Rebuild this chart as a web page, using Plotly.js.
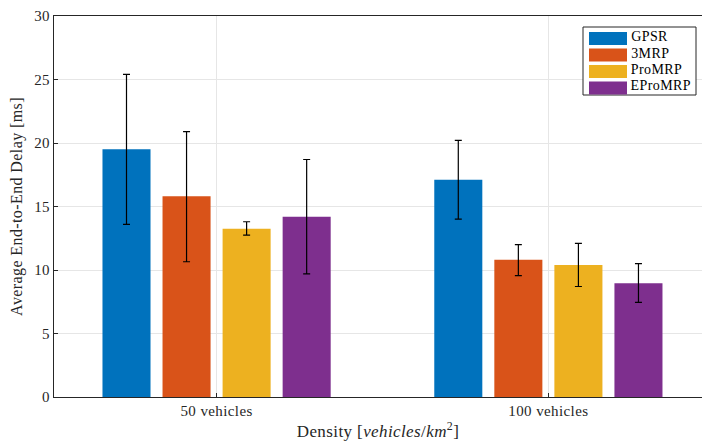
<!DOCTYPE html>
<html>
<head>
<meta charset="utf-8">
<script src="https://cdn.plot.ly/plotly-3.0.1.min.js"></script>
<style>html,body{margin:0;padding:0;background:#fff;}#chart{width:702px;height:441px;}#chart text{letter-spacing:0.4px;}</style>
</head>
<body>
<div id="chart"></div>
<script>
const categories = ["50 vehicles", "100 vehicles"];
const seriesNames = ["GPSR", "3MRP", "ProMRP", "EProMRP"];
const colors = ["#0072BD", "#D95319", "#EDB120", "#7E2F8E"];
const gpsr = [19.5, 17.1];
const gpsrHi = [25.4, 20.2];
const gpsrLo = [13.6, 14.0];
const mrp3 = [15.8, 10.8];
const mrp3Hi = [20.9, 12.0];
const mrp3Lo = [10.65, 9.55];
const promrp = [13.25, 10.4];
const promrpHi = [13.8, 12.1];
const promrpLo = [12.75, 8.7];
const epromrp = [14.2, 8.95];
const epromrpHi = [18.7, 10.5];
const epromrpLo = [9.7, 7.45];
const yTicks = [0, 5, 10, 15, 20, 25, 30];

const values = [gpsr, mrp3, promrp, epromrp];
const his = [gpsrHi, mrp3Hi, promrpHi, epromrpHi];
const los = [gpsrLo, mrp3Lo, promrpLo, epromrpLo];
const font = "Liberation Serif, Times New Roman, serif";

const traces = seriesNames.map((n, i) => ({
  type: "bar",
  name: n,
  x: [1, 2],
  y: values[i],
  showlegend: false,
  marker: {color: colors[i], line: {width: 0}},
  error_y: {
    type: "data",
    symmetric: false,
    array: his[i].map((h, k) => h - values[i][k]),
    arrayminus: values[i].map((v, k) => v - los[i][k]),
    color: "#000000",
    thickness: 1.2,
    width: 3.5
  }
}));

// Legend drawn as a MATLAB-style box (pixel layout -> plot-area fractions)
const M = {l: 54, r: 0, t: 16, b: 44};
const W = 702, H = 441;
const pw = W - M.l - M.r, ph = H - M.t - M.b;
const fx = px => (px - M.l) / pw;
const fy = py => (H - M.b - py) / ph;
const shapes = [{
  type: "rect", xref: "paper", yref: "paper",
  x0: fx(583), x1: fx(696), y0: fy(95), y1: fy(27),
  line: {color: "#262626", width: 1}, fillcolor: "#fff", layer: "above"
}];
const annotations = [];
seriesNames.forEach((n, i) => {
  const cy = 38.5 + i * 16.5;
  shapes.push({
    type: "rect", xref: "paper", yref: "paper",
    x0: fx(589), x1: fx(627), y0: fy(cy + 6.5), y1: fy(cy - 6.5),
    line: {width: 0}, fillcolor: colors[i], layer: "above"
  });
  annotations.push({
    xref: "paper", yref: "paper", x: fx(630), y: fy(cy - 2),
    xanchor: "left", yanchor: "middle", showarrow: false,
    text: n, font: {family: font, size: 14, color: "#000"}
  });
});

const layout = {
  width: W, height: H,
  margin: M,
  paper_bgcolor: "#fff", plot_bgcolor: "#fff",
  font: {family: font, size: 15, color: "#262626"},
  barmode: "group",
  bargap: 0.276,
  bargroupgap: 0.2,
  showlegend: false,
  shapes: shapes,
  annotations: annotations,
  xaxis: {
    range: [0.51, 2.463],
    tickvals: [1, 2],
    ticktext: categories,
    showgrid: true, gridcolor: "#e6e6e6", gridwidth: 1,
    showline: true, linecolor: "#262626", linewidth: 1, mirror: true,
    ticks: "inside", ticklen: 4, tickcolor: "#262626",
    tickfont: {family: font, size: 15, color: "#262626"},
    zeroline: false,
    title: {text: "Density [<i>vehicles</i>/<i>km</i><sup>2</sup>]", font: {family: font, size: 17, color: "#262626"}, standoff: 9}
  },
  yaxis: {
    range: [0, 30],
    tickvals: yTicks,
    showgrid: true, gridcolor: "#e6e6e6", gridwidth: 1,
    showline: true, linecolor: "#262626", linewidth: 1, mirror: false,
    ticks: "inside", ticklen: 4, tickcolor: "#262626",
    tickfont: {family: font, size: 15, color: "#262626"},
    zeroline: false,
    title: {text: "Average End-to-End Delay [ms]", font: {family: font, size: 16, color: "#262626"}, standoff: 8}
  }
};

Plotly.newPlot("chart", traces, layout, {displayModeBar: false, staticPlot: true});
</script>
</body>
</html>
